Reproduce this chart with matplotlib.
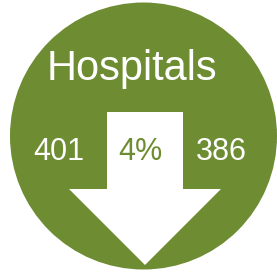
import matplotlib
matplotlib.use("Agg")
import matplotlib.pyplot as plt
from matplotlib.patches import Circle, Polygon

title = "Hospitals"
before = "401"
after = "386"
change = "4%"

green = "#6e8c32"

fig = plt.figure(figsize=(2.77, 2.73), dpi=100)
ax = fig.add_axes([0, 0, 1, 1])
ax.set_xlim(0, 277)
ax.set_ylim(273, 0)
ax.axis("off")

ax.add_patch(Circle((143.5, 136), 133.5, color=green, lw=0))

# down arrow
arrow = [(107, 112), (183, 112), (183, 189), (221, 189), (145, 265),
         (69, 189), (107, 189)]
ax.add_patch(Polygon(arrow, closed=True, color="white", lw=0))

font = "Liberation Sans"
ax.text(132, 69, title, color="white", fontsize=30, family=font,
        ha="center", va="center")
ax.text(59, 152, before, color="white", fontsize=22, family=font,
        ha="center", va="center")
ax.text(140, 152, change, color=green, fontsize=22, family=font,
        ha="center", va="center")
ax.text(221, 152, after, color="white", fontsize=22, family=font,
        ha="center", va="center")

fig.savefig("out.png", dpi=100)
